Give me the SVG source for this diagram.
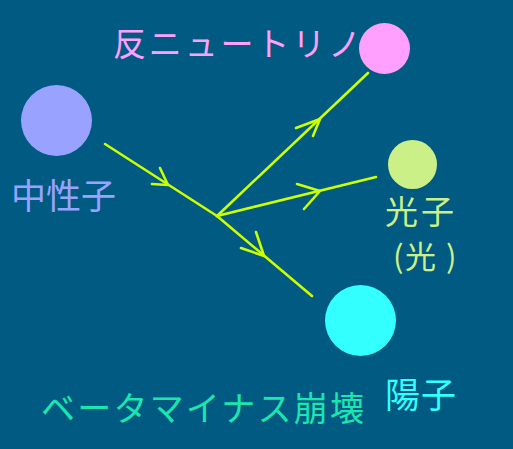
<svg xmlns="http://www.w3.org/2000/svg" width="513" height="449" viewBox="0 0 513 449">
<style>
text{font-family:"Noto Sans CJK JP","Noto Sans CJK SC",sans-serif;}
.ln{stroke:#ccff00;stroke-width:2.6;fill:none;stroke-linecap:round;stroke-linejoin:round;}
</style>
<rect x="0" y="0" width="513" height="449" fill="#005a82"/>
<g id="connectors">
<line class="ln" x1="105" y1="144" x2="217" y2="216"/>
<polyline class="ln" points="160,168 168,185 152,184"/>
<line class="ln" x1="217" y1="216" x2="312" y2="296"/>
<polyline class="ln" points="256,232 264,256 241,248"/>
<line class="ln" x1="217" y1="216" x2="376" y2="177"/>
<polyline class="ln" points="297,184 320,191 304,209"/>
<line class="ln" x1="217" y1="216" x2="368" y2="73"/>
<polyline class="ln" points="296,128 320,119 313,136"/>
</g>
<g id="neutron">
<circle cx="56.5" cy="120.5" r="35.5" fill="#99a3ff"/>
<text x="11" y="209" font-size="35" fill="#99a3ff" textLength="105" lengthAdjust="spacing">中性子</text>
</g>
<g id="antineutrino">
<circle cx="384.5" cy="48.5" r="25.5" fill="#ffa0ff"/>
<text x="113" y="56" font-size="33" fill="#ffa0ff" textLength="248" lengthAdjust="spacing">反ニュートリノ</text>
</g>
<g id="photon">
<circle cx="412.5" cy="164.5" r="24.5" fill="#ccf088"/>
<text x="385" y="224" font-size="33" fill="#ccf088" textLength="69" lengthAdjust="spacing">光子</text>
<text y="268" font-size="31" fill="#ccf088"><tspan x="393">(</tspan><tspan x="405">光 </tspan><tspan x="446">)</tspan></text>
</g>
<g id="proton">
<circle cx="360.5" cy="320.5" r="35.5" fill="#33ffff"/>
<text x="385" y="408" font-size="35" fill="#33ffff" textLength="71" lengthAdjust="spacing">陽子</text>
</g>
<g id="title">
<text x="41" y="421" font-size="34" fill="#1ae6b0" textLength="323" lengthAdjust="spacing">ベータマイナス崩壊</text>
</g>
</svg>
